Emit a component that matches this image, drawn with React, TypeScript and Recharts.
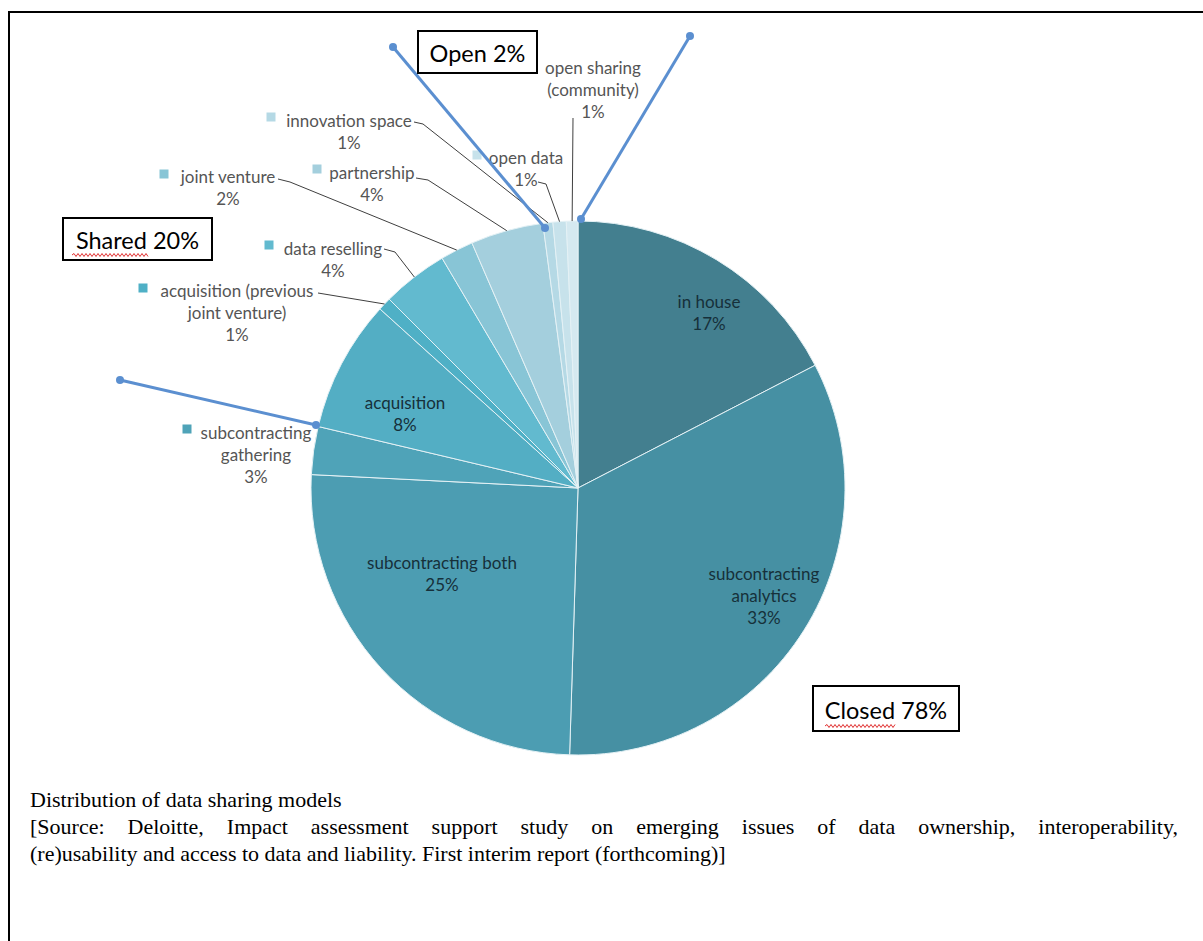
import { PieChart, Pie, Cell } from "recharts";

const sliceNames = [
  "in house",
  "subcontracting analytics",
  "subcontracting both",
  "subcontracting gathering",
  "acquisition",
  "acquisition (previous joint venture)",
  "data reselling",
  "joint venture",
  "partnership",
  "innovation space",
  "open data",
  "open sharing (community)",
];

// shares in % (labels show them rounded)
const sliceValues = [17.4, 33.1, 25.3, 2.9, 8.0, 0.8, 4.0, 2.0, 4.4, 0.6, 0.8, 0.7];

const sliceColors = [
  "#437f8f",
  "#4690a3",
  "#4c9db2",
  "#4fa3b8",
  "#53aec4",
  "#4fb0c6",
  "#62bacf",
  "#88c5d6",
  "#a4cfdd",
  "#b5d9e5",
  "#c7e2eb",
  "#d5e9f0",
];

const groupBoxes = [
  { text: "Open 2%", x: 418, y: 31, w: 119, h: 42, squiggle: null as null | [number, number] },
  { text: "Shared 20%", x: 63, y: 218, w: 149, h: 42, squiggle: [72, 148] as [number, number] },
  { text: "Closed 78%", x: 813, y: 686, w: 146, h: 45, squiggle: [825, 896] as [number, number] },
];

const captionTitle = "Distribution of data sharing models";
const captionSource = [
  "[Source: Deloitte, Impact assessment support study on emerging issues of data ownership, interoperability,",
  "(re)usability and access to data and liability. First interim report (forthcoming)]",
];

type LabelSpec = {
  lines: string[];
  x: number;
  y: number;
  inside?: boolean;
  square?: [number, number];
  leader?: [number, number][];
};

const labelLayout: Record<string, LabelSpec> = {
  "in house": { lines: ["in house"], x: 709, y: 301, inside: true },
  "subcontracting analytics": { lines: ["subcontracting", "analytics"], x: 764, y: 573, inside: true },
  "subcontracting both": { lines: ["subcontracting both"], x: 442, y: 562, inside: true },
  acquisition: { lines: ["acquisition"], x: 405, y: 402, inside: true },
  "subcontracting gathering": { lines: ["subcontracting", "gathering"], x: 256, y: 432, square: [187, 429] },
  "acquisition (previous joint venture)": {
    lines: ["acquisition (previous", "joint venture)"],
    x: 237,
    y: 290,
    square: [143, 288],
    leader: [[318, 293]],
  },
  "data reselling": { lines: ["data reselling"], x: 333, y: 248, square: [269, 245], leader: [[384, 249], [395, 252]] },
  "joint venture": { lines: ["joint venture"], x: 228, y: 176, square: [164, 174], leader: [[278, 179], [290, 182]] },
  partnership: { lines: ["partnership"], x: 372, y: 172, square: [317, 169], leader: [[416, 178], [428, 180]] },
  "innovation space": { lines: ["innovation space"], x: 349, y: 120, square: [271, 117], leader: [[414, 122], [423, 124]] },
  "open data": { lines: ["open data"], x: 526, y: 157, square: [477, 155], leader: [[538, 182], [546, 184]] },
  "open sharing (community)": { lines: ["open sharing", "(community)"], x: 593, y: 67, leader: [[573, 118]] },
};

const blueLines: [number, number, number, number][] = [
  [393, 47, 545, 228],
  [690, 36, 581, 219],
  [120, 380, 316, 425],
];

const RAD = Math.PI / 180;
const labelFont = "Lato, 'Open Sans', sans-serif";

function renderLabel(props: any) {
  const { cx, cy, midAngle, outerRadius, index, value } = props;
  const name = sliceNames[index];
  const spec = labelLayout[name];
  if (!spec) return null;
  const rows = [...spec.lines, `${Math.round(value)}%`];
  const lh = 22;
  const ex = cx + outerRadius * Math.cos(-midAngle * RAD);
  const ey = cy + outerRadius * Math.sin(-midAngle * RAD);
  const pts = spec.leader ? [...spec.leader, [ex, ey]] : null;
  return (
    <g key={`lbl-${index}`}>
      {pts && (
        <polyline
          points={pts.map((p) => p.join(",")).join(" ")}
          fill="none"
          stroke="#3f3f3f"
          strokeWidth={1}
        />
      )}
      {spec.square && (
        <rect
          x={spec.square[0] - 4.5}
          y={spec.square[1] - 4.5}
          width={9}
          height={9}
          fill={sliceColors[index]}
        />
      )}
      {rows.map((r, i) => (
        <text
          key={i}
          x={spec.x}
          y={spec.y + i * lh}
          textAnchor="middle"
          dominantBaseline="central"
          fontFamily={labelFont}
          fontSize={17}
          fill={spec.inside ? "#16303a" : "#555555"}
        >
          {r}
        </text>
      ))}
    </g>
  );
}

function squigglePath(x1: number, x2: number, y: number) {
  let d = `M${x1},${y}`;
  let up = true;
  for (let x = x1 + 2; x <= x2; x += 2) {
    d += ` L${x},${up ? y - 1.5 : y + 1.5}`;
    up = !up;
  }
  return d;
}

export default function App() {
  const data = sliceNames.map((name, i) => ({ name, value: sliceValues[i] }));
  return (
    <div style={{ position: "absolute", left: 0, top: 0, width: 1203, height: 941, background: "#fff", overflow: "hidden" }}>
      <PieChart
        width={1203}
        height={941}
        margin={{ top: 0, right: 0, bottom: 0, left: 0 }}
        style={{ position: "absolute", left: 0, top: 0 }}
      >
        <Pie
          data={data}
          dataKey="value"
          nameKey="name"
          cx={578}
          cy={488}
          outerRadius={267}
          startAngle={90}
          endAngle={-270}
          stroke="#e4f1f5"
          strokeWidth={1}
          label={renderLabel}
          labelLine={false}
          isAnimationActive={false}
        >
          {data.map((d, i) => (
            <Cell key={d.name} fill={sliceColors[i]} />
          ))}
        </Pie>
      </PieChart>
      <svg width={1203} height={941} style={{ position: "absolute", left: 0, top: 0, pointerEvents: "none" }}>
        <polyline points="9,941 9,12 1203,12" fill="none" stroke="#000" strokeWidth={2} />
        {blueLines.map(([x1, y1, x2, y2], i) => (
          <g key={i}>
            <line x1={x1} y1={y1} x2={x2} y2={y2} stroke="#5b8fd0" strokeWidth={3} />
            <circle cx={x1} cy={y1} r={4} fill="#5b8fd0" />
            <circle cx={x2} cy={y2} r={4} fill="#5b8fd0" />
          </g>
        ))}
        {groupBoxes.map((b) => (
          <g key={b.text}>
            <rect x={b.x} y={b.y} width={b.w} height={b.h} fill="#fff" stroke="#000" strokeWidth={2} />
            <text
              x={b.x + b.w / 2}
              y={b.y + b.h / 2 + 1}
              textAnchor="middle"
              dominantBaseline="central"
              fontFamily={labelFont}
              fontSize={23.5}
              fill="#000"
            >
              {b.text}
            </text>
            {b.squiggle && (
              <path
                d={squigglePath(b.squiggle[0], b.squiggle[1], b.y + b.h - 5)}
                fill="none"
                stroke="#e03030"
                strokeWidth={1}
              />
            )}
          </g>
        ))}
      </svg>
      <div
        style={{
          position: "absolute",
          left: 30,
          top: 786,
          fontFamily: "'Liberation Serif', 'Times New Roman', serif",
          fontSize: 22,
          lineHeight: "27px",
          color: "#000",
          whiteSpace: "nowrap",
        }}
      >
        <div>{captionTitle}</div>
        <div style={{ width: 1148, textAlign: "justify", textAlignLast: "justify", whiteSpace: "normal" }}>
          {captionSource[0]}
        </div>
        <div>{captionSource[1]}</div>
      </div>
    </div>
  );
}
